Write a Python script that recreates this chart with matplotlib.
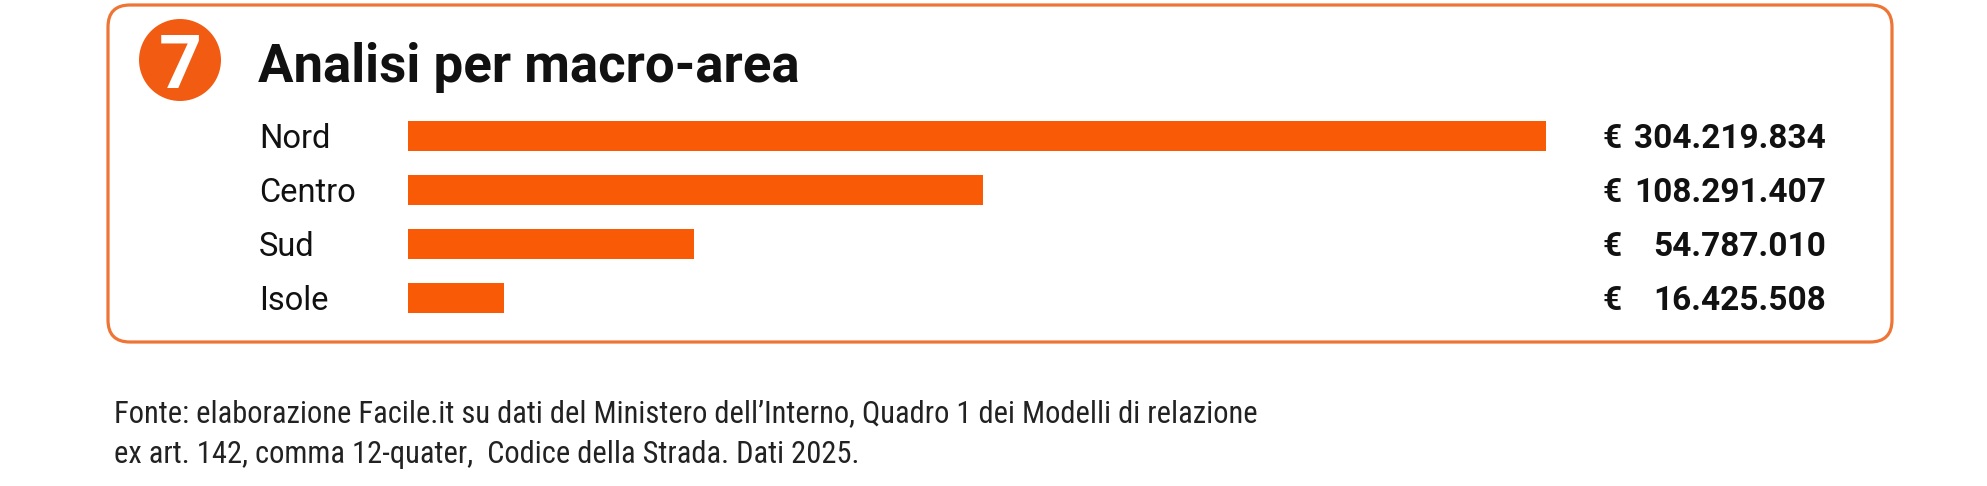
import matplotlib
matplotlib.use('Agg')
import matplotlib.pyplot as plt
from matplotlib import patches, transforms, font_manager

# data
areas = ['Nord', 'Centro', 'Sud', 'Isole']
amounts = [304219834, 108291407, 54787010, 16425508]
# bar lengths as drawn in the original (not proportional to the amounts), millions
bar_lengths = [304.2, 153.9, 76.4, 25.8]
title = 'Analisi per macro-area'
badge = '7'
source_lines = [
    'Fonte: elaborazione Facile.it su dati del Ministero dell\u2019Interno, Quadro 1 dei Modelli di relazione',
    'ex art. 142, comma 12-quater,  Codice della Strada. Dati 2025.',
]

ORANGE = '#F95A06'
BOX_ORANGE = '#EE7535'
BADGE = '#F15C12'
INK = '#111111'

available = {f.name for f in font_manager.fontManager.ttflist}

def pick(*names):
    for n in names:
        if n in available:
            return n
    return 'DejaVu Sans'

MAIN = pick('Roboto', 'Liberation Sans')
NARROW = pick('Liberation Sans Narrow', 'Roboto Condensed', 'Liberation Sans')

W, H = 1987, 486
fig = plt.figure(figsize=(W / 100, H / 100), dpi=100)
fig.patch.set_facecolor('white')

# background axes in pixel units
bg = fig.add_axes([0, 0, 1, 1])
bg.set_xlim(0, W)
bg.set_ylim(H, 0)
bg.axis('off')

box = patches.FancyBboxPatch((108, 5), 1784, 337, boxstyle='round,pad=0,rounding_size=22',
                             facecolor='white', edgecolor=BOX_ORANGE, linewidth=2.3)
bg.add_patch(box)
bg.add_patch(patches.Circle((180, 60), 41, facecolor=BADGE, edgecolor='none'))
bg.text(180, 88, badge, color='white', fontsize=54, fontweight='bold', family=MAIN,
        ha='center', va='baseline')
bg.text(258, 82, title, color=INK, fontsize=38, fontweight='bold', family=MAIN,
        ha='left', va='baseline')

for i, line in enumerate(source_lines):
    bg.text(114, 422 + 41 * i, line, color='#222222', fontsize=22, family=NARROW,
            ha='left', va='baseline')

# bar chart
row_px = 54
ax = fig.add_axes([408 / W, 1 - 325 / H, 1137.5 / W, 4 * row_px / H])
ax.barh(range(len(areas)), bar_lengths, height=30 / row_px, color=ORANGE)
ax.set_xlim(0, bar_lengths[0])
ax.set_ylim(len(areas) - 0.5, -0.5)
ax.axis('off')

mix = transforms.blended_transform_factory(bg.transData, ax.transData)
for i, (name, val) in enumerate(zip(areas, amounts)):
    ax.text(259, i + 12 / row_px, name, transform=mix, color=INK, fontsize=23.5,
            family=MAIN, ha='left', va='baseline')
    ax.text(1603, i + 12 / row_px, '\u20ac', transform=mix, color=INK, fontsize=24,
            fontweight='bold', family=MAIN, ha='left', va='baseline')
    ax.text(1826, i + 12 / row_px, f'{val:,}'.replace(',', '.'), transform=mix,
            color=INK, fontsize=24, fontweight='bold', family=MAIN, ha='right',
            va='baseline')

fig.savefig('out.png', dpi=100, facecolor='white')
